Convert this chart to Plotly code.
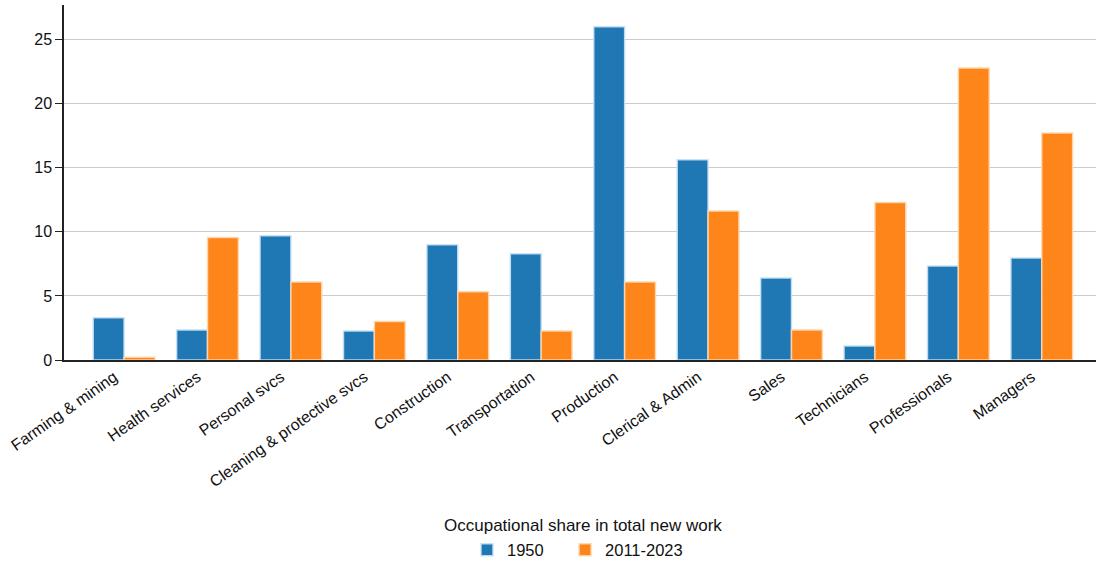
import plotly.graph_objects as go

categories = ["Farming & mining", "Health services", "Personal svcs",
              "Cleaning & protective svcs", "Construction", "Transportation",
              "Production", "Clerical & Admin", "Sales", "Technicians",
              "Professionals", "Managers"]
share_1950 = [3.3, 2.35, 9.7, 2.27, 9.0, 8.3, 26.0, 15.63, 6.4, 1.1, 7.33, 7.96]
share_2011_2023 = [0.22, 9.55, 6.08, 3.0, 5.33, 2.27, 6.08, 11.62, 2.35, 12.28, 22.78, 17.71]
y_ticks = [0, 5, 10, 15, 20, 25]
legend_title = "Occupational share in total new work"

fig = go.Figure()
fig.add_trace(go.Bar(
    x=categories, y=share_1950, name="1950", legend="legend",
    marker=dict(color="#1f77b4", line=dict(color="rgba(200,225,245,0.9)", width=1.5)),
))
fig.add_trace(go.Bar(
    x=categories, y=share_2011_2023, name="2011-2023", legend="legend2",
    marker=dict(color="#fd8519", line=dict(color="rgba(255,215,175,0.9)", width=1.5)),
))

fig.add_annotation(
    text=legend_title, xref="paper", yref="paper", x=0.503, y=-0.465,
    xanchor="center", yanchor="middle", showarrow=False, font=dict(size=17),
)

leg_common = dict(orientation="h", xanchor="left", y=-0.535, yanchor="middle",
                  font=dict(size=16.5), bgcolor="rgba(0,0,0,0)")

fig.update_layout(
    width=1096, height=563,
    paper_bgcolor="white", plot_bgcolor="white",
    font=dict(family="Liberation Sans, Arial, sans-serif", size=16, color="#111"),
    margin=dict(l=64, r=0, t=5, b=203, autoexpand=False),
    barmode="group", bargap=0.26, bargroupgap=0.0,
    showlegend=True,
    legend=dict(x=0.3905, **leg_common),
    legend2=dict(x=0.4855, **leg_common),
    xaxis=dict(
        range=[-0.72, 11.65], tickangle=-35, showgrid=False, automargin=False,
        showline=True, linecolor="#222", linewidth=1.5,
        ticks="", tickfont=dict(size=16), ticklabelshift=-10,
    ),
    yaxis=dict(
        range=[0, 27.7], tickvals=y_ticks, showgrid=True, gridcolor="#cccccc",
        gridwidth=1, showline=True, linecolor="#222", linewidth=1.5, automargin=False,
        ticks="outside", ticklen=7, tickcolor="#222", zeroline=False,
        tickfont=dict(size=16),
    ),
)

fig.write_html(
    "out.html",
    config={"displayModeBar": False},
    post_script="document.body.style.margin='0';document.body.style.padding='0';",
)
